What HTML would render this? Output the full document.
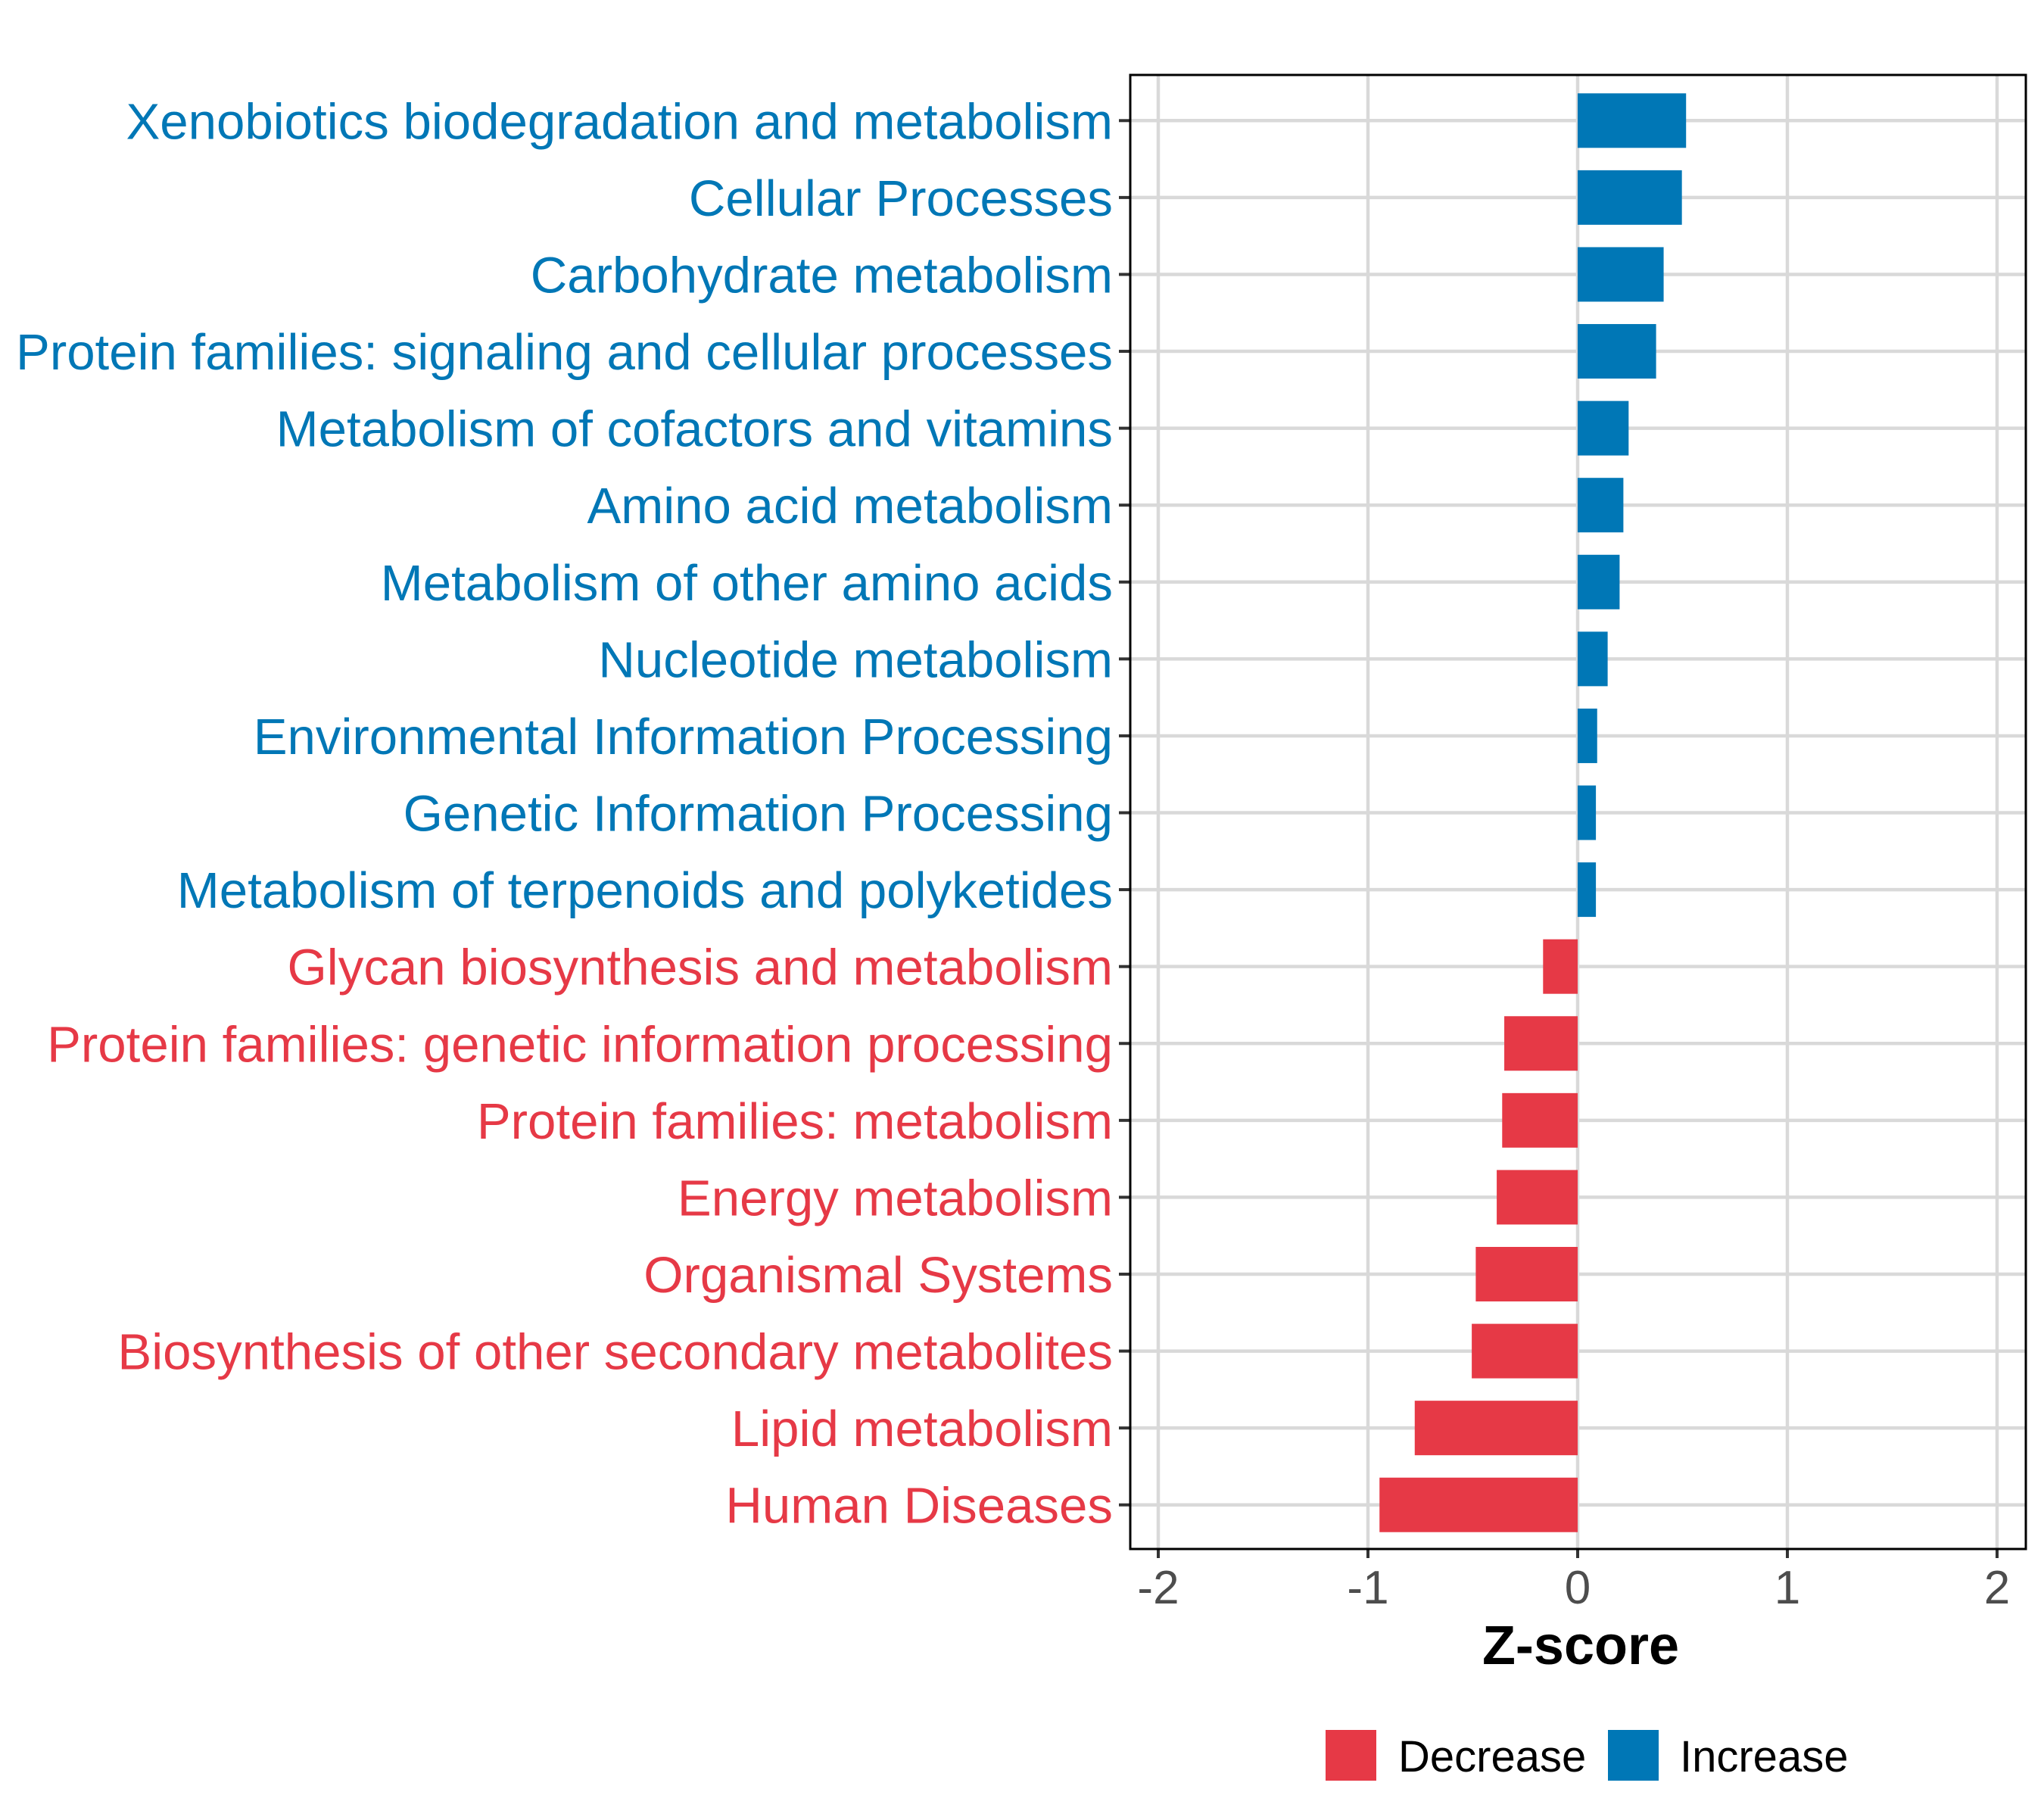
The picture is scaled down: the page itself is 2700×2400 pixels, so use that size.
<!DOCTYPE html>
<html><head><meta charset="utf-8"><style>
html,body{margin:0;padding:0;background:#fff}
svg{display:block}
text{font-family:"Liberation Sans",Arial,sans-serif}
</style></head><body>
<svg id="chart" width="2700" height="2400" viewBox="0 0 2700 2400">
<rect width="2700" height="2400" fill="#fff"/>
<g id="grid"></g>
<g id="bars"></g>
<g id="ylabels"></g>
<g id="xticks"></g>
<rect x="1493" y="99" width="1183" height="1947" fill="none" stroke="#000" stroke-width="3"/>
<text x="2088" y="2198" font-size="72" font-weight="bold" text-anchor="middle" fill="#000">Z-score</text>
<g>
<rect x="1751" y="2285" width="67" height="67" fill="#e63946"/>
<text x="1847" y="2340" font-size="58" fill="#000">Decrease</text>
<rect x="2124" y="2285" width="67" height="67" fill="#0077b6"/>
<text x="2219" y="2340" font-size="58" fill="#000">Increase</text>
</g>
</svg>
<script>
const categories = ["Xenobiotics biodegradation and metabolism","Cellular Processes","Carbohydrate metabolism","Protein families: signaling and cellular processes","Metabolism of cofactors and vitamins","Amino acid metabolism","Metabolism of other amino acids","Nucleotide metabolism","Environmental Information Processing","Genetic Information Processing","Metabolism of terpenoids and polyketides","Glycan biosynthesis and metabolism","Protein families: genetic information processing","Protein families: metabolism","Energy metabolism","Organismal Systems","Biosynthesis of other secondary metabolites","Lipid metabolism","Human Diseases"];
const zscores = [0.517,0.497,0.41,0.374,0.243,0.218,0.20,0.143,0.093,0.087,0.087,-0.165,-0.35,-0.36,-0.386,-0.486,-0.505,-0.777,-0.945];
const xTicks = [-2,-1,0,1,2];
const xTickLabels = ["-2","-1","0","1","2"];

const NS = "http://www.w3.org/2000/svg";
const X0 = 2084, UNIT = 277;
const xScale = v => X0 + v * UNIT;
const ROW0 = 159.3, STEP = 101.58;
const yScale = i => ROW0 + i * STEP;
const BAR_H = 72;
const BLUE = "#0077b6", RED = "#e63946";
function mk(tag, attrs){ const e=document.createElementNS(NS,tag); for(const k in attrs) e.setAttribute(k,attrs[k]); return e; }
const grid = document.getElementById('grid'), bars = document.getElementById('bars'), yl = document.getElementById('ylabels'), xt = document.getElementById('xticks');

xTicks.forEach((t,i)=>{
  const x = xScale(t);
  const g = mk('line',{x1:x,x2:x,y1:99,y2:2046,stroke:'#d9d9d9','stroke-width':4.5});
  
  
  grid.appendChild(g);
  const tk = mk('line',{x1:x,x2:x,y1:2046,y2:2058,stroke:'#333','stroke-width':4});
  
  
  xt.appendChild(tk);
  const tx = mk('text',{x:x,y:2118,'font-size':62,'text-anchor':'middle',fill:'#4d4d4d'});
  tx.textContent = xTickLabels[i];
  
  
  xt.appendChild(tx);
});
categories.forEach((c,i)=>{
  const y = yScale(i);
  const gl = mk('line',{x1:1493,x2:2676,y1:y,y2:y,stroke:'#d9d9d9','stroke-width':4.5});
  
  
  grid.appendChild(gl);
  const v = zscores[i];
  const col = v>=0?BLUE:RED;
  const x1 = xScale(Math.min(0,v)), x2 = xScale(Math.max(0,v));
  const b = mk('rect',{x:x1,y:y-BAR_H/2,width:x2-x1,height:BAR_H,fill:col});
  
  
  bars.appendChild(b);
  const tk = mk('line',{x1:1478,x2:1493,y1:y,y2:y,stroke:'#333','stroke-width':4});
  
  
  yl.appendChild(tk);
  const t = mk('text',{x:1470,y:y+24,'font-size':67.2,'text-anchor':'end',fill:col});
  t.textContent = c;
  
  
  yl.appendChild(t);
});
</script>
</body></html>
